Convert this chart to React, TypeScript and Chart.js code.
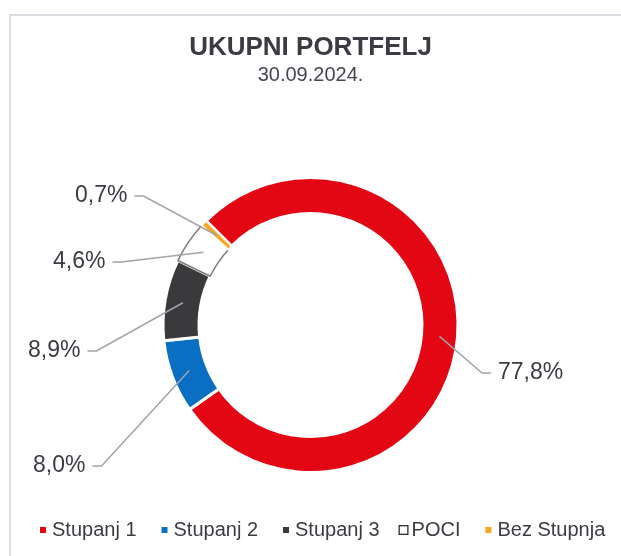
import React, { useEffect, useRef } from "react";
import { Chart, registerables } from "chart.js";

Chart.register(...registerables);

// ---- data ----
const categories = ["Stupanj 1", "Stupanj 2", "Stupanj 3", "POCI", "Bez Stupnja"];
const shares = [77.8, 8.0, 8.9, 4.6, 0.7];
const chartTitle = "UKUPNI PORTFELJ";
const chartDate = "30.09.2024.";

// ---- styles ----
const fillColors = ["#e30613", "#0a6fc2", "#3a393c", "#ffffff", "#f5a623"];
const edgeColors = ["#ffffff", "#ffffff", "#ffffff", "#7a7a7a", "#ffffff"];
const edgeWidths = [3, 3, 3, 1.5, 2];
const FONT = "'Liberation Sans', Arial, sans-serif";
const TEXT_COLOR = "#3e3a42";
const LEADER_COLOR = "#a2a2aa";
const OUTER_R = 147.5;
const INNER_R = 111.5;

// label placement relative to the doughnut centre (text edge nearest the ring)
const LABEL_POS = [
  { dx: 187.5, dy: 48 },
  { dx: -225, dy: 141 },
  { dx: -230, dy: 26 },
  { dx: -205, dy: -63 },
  { dx: -183, dy: -129 },
];

const fmt = (v: number) => v.toFixed(1).replace(".", ",") + "%";

const leaderLabels = {
  id: "leaderLabels",
  afterDatasetsDraw(chart: any) {
    const meta = chart.getDatasetMeta(0);
    const ctx = chart.ctx as CanvasRenderingContext2D;
    ctx.save();
    ctx.font = `23px ${FONT}`;
    ctx.textBaseline = "middle";
    ctx.lineWidth = 1.5;
    ctx.strokeStyle = LEADER_COLOR;
    ctx.fillStyle = TEXT_COLOR;
    meta.data.forEach((arc: any, i: number) => {
      const p = arc.getProps(["x", "y", "startAngle", "endAngle", "innerRadius", "outerRadius"], true);
      const mid = (p.startAngle + p.endAngle) / 2;
      const r = (p.innerRadius + p.outerRadius) / 2;
      const ax = p.x + Math.cos(mid) * r;
      const ay = p.y + Math.sin(mid) * r;
      const pos = LABEL_POS[i];
      const tx = p.x + pos.dx;
      const ty = p.y + pos.dy;
      const dir = pos.dx > 0 ? 1 : -1;
      ctx.beginPath();
      ctx.moveTo(ax, ay);
      ctx.lineTo(tx - dir * 16, ty);
      ctx.lineTo(tx - dir * 7, ty);
      ctx.stroke();
      ctx.textAlign = dir > 0 ? "left" : "right";
      ctx.fillText(fmt(shares[i]), tx, ty);
    });
    ctx.restore();
  },
};

const bottomLegend = {
  id: "bottomLegend",
  afterDraw(chart: any) {
    const ctx = chart.ctx as CanvasRenderingContext2D;
    ctx.save();
    ctx.font = `20px ${FONT}`;
    ctx.textBaseline = "middle";
    ctx.textAlign = "left";
    const y = 530;
    let x = 40;
    categories.forEach((c, i) => {
      const hollow = fillColors[i] === "#ffffff";
      if (i > 0) x += hollow ? 19 : 25;
      const s = hollow ? 10 : 6;
      if (hollow) {
        ctx.strokeStyle = "#2e2e2e";
        ctx.lineWidth = 1.3;
        ctx.strokeRect(x + 0.65, y - s / 2 + 0.65, s - 1.3, s - 1.3);
      } else {
        ctx.fillStyle = fillColors[i];
        ctx.fillRect(x, y - s / 2, s, s);
      }
      x += s + (hollow ? 3 : 6);
      ctx.fillStyle = TEXT_COLOR;
      ctx.fillText(c, x, y);
      x += ctx.measureText(c).width;
    });
    ctx.restore();
  },
};

export default function App() {
  const ref = useRef<HTMLCanvasElement | null>(null);

  useEffect(() => {
    if (!ref.current) return;
    const chart = new Chart(ref.current, {
      type: "doughnut",
      data: {
        labels: categories,
        datasets: [
          {
            data: shares,
            backgroundColor: fillColors,
            borderColor: edgeColors,
            borderWidth: edgeWidths,
          },
        ],
      },
      options: {
        responsive: false,
        animation: false,
        rotation: -45,
        radius: OUTER_R,
        cutout: `${((INNER_R / OUTER_R) * 100).toFixed(2)}%`,
        layout: { padding: { left: 0, right: 0, top: 0, bottom: 55.5 } },
        plugins: {
          legend: { display: false },
          tooltip: { enabled: false },
          title: {
            display: true,
            text: chartTitle,
            color: TEXT_COLOR,
            font: { family: FONT, size: 26, weight: "bold" },
            padding: { top: 32.4, bottom: 0 },
          },
          subtitle: {
            display: true,
            text: chartDate,
            color: "#4a4450",
            font: { family: FONT, size: 20 },
            padding: { top: 0, bottom: 61.9 },
          },
        },
      } as any,
      plugins: [leaderLabels, bottomLegend],
    });
    return () => chart.destroy();
  }, []);

  return (
    <div
      style={{
        position: "fixed",
        left: 0,
        top: 0,
        width: 621,
        height: 556,
        overflow: "hidden",
        background: "#ffffff",
      }}
    >
      <div
        style={{
          position: "absolute",
          left: 9,
          top: 14,
          width: 700,
          height: 600,
          borderTop: "2px solid #dedce2",
          borderLeft: "2px solid #dedce2",
        }}
      />
      <canvas
        ref={ref}
        width={621}
        height={556}
        style={{ position: "absolute", left: 0, top: 0, width: 621, height: 556 }}
      />
    </div>
  );
}
